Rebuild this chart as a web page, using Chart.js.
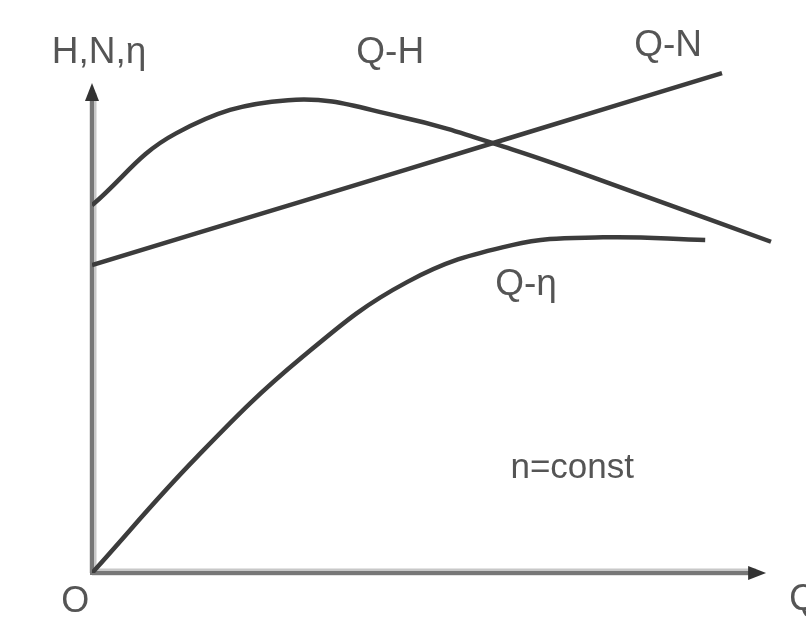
<!DOCTYPE html>
<html>
<head>
<meta charset="utf-8">
<script src="https://cdn.jsdelivr.net/npm/chart.js@4/dist/chart.umd.min.js"></script>
<style>
html,body{margin:0;padding:0;background:#fff;}
#wrap{width:806px;height:638px;position:relative;}
</style>
</head>
<body>
<div id="wrap"><canvas id="c" width="806" height="638"></canvas></div>
<script>
// Schematic pump characteristic curves (arbitrary units, 0..100)
const qhQ   = [0, 12, 28, 44, 60, 78, 97];
const qhH   = [66.5, 79.5, 85.5, 82.5, 76.6, 68.6, 59.9];

const qnQ   = [0, 30, 60, 90];
const qnN   = [55.7, 67.2, 78.8, 90.4];

const qeQ   = [0, 15, 30, 45, 60, 73, 87.6];
const qeEta = [0, 21.0, 39.0, 52.6, 59.3, 60.7, 60.2];

// axis extents (arrow tips) and annotation labels
const axisEnd = {x: 96.3, y: 88.6};
const labelTexts = ["H,N,η", "Q-H", "Q-N", "Q-η", "n=const", "O", "Q"];
const labelX     = [1.0, 42.6, 82.3, 62.0, 68.6, -2.4, 101.6];
const labelY     = [94.0, 94.0, 95.4, 52.2, 19.0, -5.2, -4.9];
const labelSize  = [37, 37, 37, 37, 35, 36, 36];

const toPts = (xs, ys) => xs.map((x, i) => ({x, y: ys[i]}));

const lineColor = '#3c3c3c';

const decor = {
  id: 'decor',
  beforeDatasetsDraw(chart) {
    const {ctx, scales: {x, y}} = chart;
    const ox = x.getPixelForValue(0), oy = y.getPixelForValue(0);
    const xe = x.getPixelForValue(axisEnd.x), ye = y.getPixelForValue(axisEnd.y);
    ctx.save();
    ctx.lineCap = 'butt';
    ctx.strokeStyle = '#c8c8c8';
    ctx.lineWidth = 7;
    ctx.beginPath();
    ctx.moveTo(ox + 1, ye + 10); ctx.lineTo(ox + 1, oy);
    ctx.moveTo(ox, oy - 1); ctx.lineTo(xe - 10, oy - 1);
    ctx.stroke();
    ctx.strokeStyle = '#777';
    ctx.lineWidth = 4;
    ctx.beginPath();
    ctx.moveTo(ox, ye + 10); ctx.lineTo(ox, oy);
    ctx.lineTo(xe - 10, oy);
    ctx.stroke();
    ctx.fillStyle = '#333';
    ctx.beginPath();
    ctx.moveTo(ox, ye); ctx.lineTo(ox - 7, ye + 18); ctx.lineTo(ox + 7, ye + 18); ctx.closePath();
    ctx.fill();
    ctx.beginPath();
    ctx.moveTo(xe, oy); ctx.lineTo(xe - 18, oy - 7); ctx.lineTo(xe - 18, oy + 7); ctx.closePath();
    ctx.fill();
    ctx.restore();
  },
  afterDatasetsDraw(chart) {
    const {ctx, scales: {x, y}} = chart;
    ctx.save();
    ctx.fillStyle = '#555';
    ctx.textAlign = 'center';
    ctx.textBaseline = 'middle';
    labelTexts.forEach((t, i) => {
      ctx.font = labelSize[i] + 'px "Liberation Sans", Arial, sans-serif';
      ctx.fillText(t, x.getPixelForValue(labelX[i]), y.getPixelForValue(labelY[i]));
    });
    ctx.restore();
  }
};

new Chart(document.getElementById('c'), {
  type: 'scatter',
  data: {
    datasets: [
      {label: 'Q-H', data: toPts(qhQ, qhH)},
      {label: 'Q-N', data: toPts(qnQ, qnN)},
      {label: 'Q-η', data: toPts(qeQ, qeEta)}
    ].map(d => Object.assign(d, {
      showLine: true, borderColor: lineColor, borderWidth: 4.5,
      pointRadius: 0, tension: 0.4, fill: false
    }))
  },
  options: {
    responsive: false,
    animation: false,
    events: [],
    layout: {padding: {left: 92, right: 14, top: 20, bottom: 65}},
    plugins: {legend: {display: false}, tooltip: {enabled: false}},
    scales: {
      x: {type: 'linear', min: 0, max: 100, display: false},
      y: {type: 'linear', min: 0, max: 100, display: false}
    }
  },
  plugins: [decor]
});
</script>
</body>
</html>
